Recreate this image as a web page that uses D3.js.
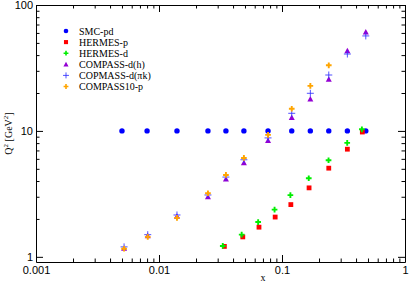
<!DOCTYPE html>
<html>
<head>
<meta charset="utf-8">
<script src="https://cdn.jsdelivr.net/npm/d3@7"></script>
<style>
  body { margin: 0; background: #fff; }
  svg { font-family: "Liberation Serif", "DejaVu Serif", serif; }
</style>
</head>
<body>
<div id="chart"></div>
<script>
// data
var smcX = [0.005, 0.008, 0.014, 0.025, 0.035, 0.049, 0.077, 0.12, 0.17, 0.24, 0.34, 0.48];
var smcQ2 = [10, 10, 10, 10, 10, 10, 10, 10, 10, 10, 10, 10];

var hermesPX = [0.034, 0.048, 0.065, 0.088, 0.118, 0.166, 0.24, 0.34, 0.45];
var hermesPQ2 = [1.21, 1.44, 1.72, 2.07, 2.6, 3.53, 5.06, 7.16, 9.8];

var hermesDX = [0.033, 0.047, 0.064, 0.087, 0.117, 0.165, 0.239, 0.339, 0.446];
var hermesDQ2 = [1.22, 1.5, 1.89, 2.37, 3.09, 4.21, 5.85, 8.03, 10.3];

var compHX = [0.0052, 0.0081, 0.014, 0.025, 0.035, 0.049, 0.077, 0.12, 0.17, 0.24, 0.34, 0.48];
var compHQ2 = [1.17, 1.47, 2.1, 3.0, 4.15, 5.6, 8.4, 12.8, 17.9, 25.7, 43.4, 61];

var compPiX = [0.0052, 0.0081, 0.014, 0.025, 0.035, 0.049, 0.077, 0.12, 0.17, 0.24, 0.34, 0.48];
var compPiQ2 = [1.2, 1.5, 2.15, 3.1, 4.3, 5.9, 8.8, 13.8, 19.9, 27.8, 40.8, 56.8];

var comp10X = [0.0052, 0.0081, 0.014, 0.025, 0.035, 0.049, 0.077, 0.12, 0.17, 0.24];
var comp10Q2 = [1.16, 1.44, 2.04, 3.2, 4.47, 6.1, 9.3, 15.0, 22.8, 33.2];

var seriesNames = ["SMC-pd", "HERMES-p", "HERMES-d", "COMPASS-d(h)", "COPMASS-d(\u03c0k)", "COMPASS10-p"];
var seriesColors = ["#0000ff", "#ff0000", "#00ee00", "#9400d3", "#3333ff", "#ffa500"];
var seriesShapes = ["circle", "square", "cross", "triangle", "plus", "cross"];
var xTickLabels = ["0.001", "0.01", "0.1", "1"];
var yTickLabels = ["1", "10", "100"];

var series = [
  {x: smcX, y: smcQ2},
  {x: hermesPX, y: hermesPQ2},
  {x: hermesDX, y: hermesDQ2},
  {x: compHX, y: compHQ2},
  {x: compPiX, y: compPiQ2},
  {x: comp10X, y: comp10Q2}
].map(function(s, i) {
  return {
    name: seriesNames[i], color: seriesColors[i], shape: seriesShapes[i],
    points: s.x.map(function(v, j) { return {x: v, y: s.y[j]}; })
  };
});

var W = 409, H = 283;
var margin = {top: 5, right: 4, bottom: 21, left: 36};
var width = W - margin.left - margin.right;
var height = H - margin.top - margin.bottom;

var svg = d3.select("#chart").append("svg")
  .attr("width", W).attr("height", H);
var g = svg.append("g")
  .attr("transform", "translate(" + margin.left + "," + margin.top + ")");

var x = d3.scaleLog().domain([0.001, 1]).range([0, width]);
var y = d3.scaleLog().domain([0.91, 100]).range([height, 0]);

function isMajor(d) {
  var l = Math.log10(d);
  return Math.abs(l - Math.round(l)) < 1e-6;
}

var xTicks = x.ticks();
var yTicks = y.ticks().filter(function(d) { return d >= 1; });

function fmtX(d) {
  if (!isMajor(d)) return "";
  return xTickLabels[Math.round(Math.log10(d)) + 3];
}
function fmtY(d) {
  if (!isMajor(d)) return "";
  return yTickLabels[Math.round(Math.log10(d))];
}

function styleAxis(sel, dir) {
  sel.select(".domain").attr("stroke", "#000").attr("stroke-width", 1);
  sel.selectAll(".tick line")
    .attr("stroke", "#000")
    .attr(dir, function(d) {
      var len = isMajor(d) ? 7 : 3.5;
      return (dir === "y2" ? (sel.classed("top") ? len : -len) : (sel.classed("right") ? -len : len));
    });
  sel.selectAll(".tick text")
    .style("font-size", "11px")
    .attr("fill", "#000");
}

var xAxisB = g.append("g").attr("class", "bottom")
  .attr("transform", "translate(0," + height + ")")
  .call(d3.axisBottom(x).tickValues(xTicks).tickFormat(fmtX).tickSizeOuter(0).tickPadding(3));
styleAxis(xAxisB, "y2");
xAxisB.selectAll(".tick text").attr("y", 4);

var xAxisT = g.append("g").attr("class", "top")
  .call(d3.axisTop(x).tickValues(xTicks).tickFormat("").tickSizeOuter(0));
styleAxis(xAxisT, "y2");

var yAxisL = g.append("g").attr("class", "left")
  .call(d3.axisLeft(y).tickValues(yTicks).tickFormat(fmtY).tickSizeOuter(0).tickPadding(3));
styleAxis(yAxisL, "x2");
yAxisL.selectAll(".tick text").attr("x", -3);

var yAxisR = g.append("g").attr("class", "right")
  .attr("transform", "translate(" + width + ",0)")
  .call(d3.axisRight(y).tickValues(yTicks).tickFormat("").tickSizeOuter(0));
styleAxis(yAxisR, "x2");

// axis titles
svg.append("text")
  .attr("x", margin.left + x(0.07))
  .attr("y", 281)
  .attr("text-anchor", "middle")
  .style("font-size", "10px")
  .text("x");

var yTitle = svg.append("text")
  .attr("transform", "translate(12," + (margin.top + height / 2) + ") rotate(-90)")
  .attr("text-anchor", "middle")
  .style("font-size", "10px");
yTitle.append("tspan").text("Q");
yTitle.append("tspan").attr("dy", -4).style("font-size", "7px").text("2");
yTitle.append("tspan").attr("dy", 4).text(" [GeV");
yTitle.append("tspan").attr("dy", -4).style("font-size", "7px").text("2");
yTitle.append("tspan").attr("dy", 4).text("]");

function drawMarker(sel, shape, color, k) {
  if (shape === "circle") {
    sel.append("circle").attr("r", 2.7 * k).attr("fill", color);
  } else if (shape === "square") {
    sel.append("rect").attr("x", -2.4 * k).attr("y", -2.4 * k)
      .attr("width", 4.8 * k).attr("height", 4.8 * k).attr("fill", color);
  } else if (shape === "cross") {
    sel.append("path").attr("d", d3.symbol(d3.symbolCross, 18 * k * k)()).attr("fill", color);
  } else if (shape === "triangle") {
    sel.append("path").attr("d", "M0," + (-3 * k) + "L" + (3 * k) + "," + (2.5 * k) + "L" + (-3 * k) + "," + (2.5 * k) + "Z")
      .attr("fill", color);
  } else if (shape === "plus") {
    var a = 3.5 * k;
    sel.append("path").attr("d", "M" + (-a) + ",0H" + a + "M0," + (-a) + "V" + a)
      .attr("stroke", color).attr("stroke-width", 1).attr("fill", "none").attr("opacity", 0.85);
  }
}

// points
series.forEach(function(s) {
  var pts = g.append("g").attr("class", "series")
    .selectAll("g")
    .data(s.points)
    .enter().append("g")
    .attr("transform", function(d) { return "translate(" + x(d.x) + "," + y(d.y) + ")"; });
  pts.each(function() { drawMarker(d3.select(this), s.shape, s.color, 1); });
});

// legend
var legend = svg.append("g").attr("transform", "translate(66,31)");
var rows = legend.selectAll("g")
  .data(series)
  .enter().append("g")
  .attr("transform", function(d, i) { return "translate(0," + i * 11.1 + ")"; });
rows.each(function(d) { drawMarker(d3.select(this), d.shape, d.color, 0.85); });
rows.append("text")
  .attr("x", 13)
  .attr("y", 3.5)
  .style("font-size", "10px")
  .text(function(d) { return d.name; });
</script>
</body>
</html>
